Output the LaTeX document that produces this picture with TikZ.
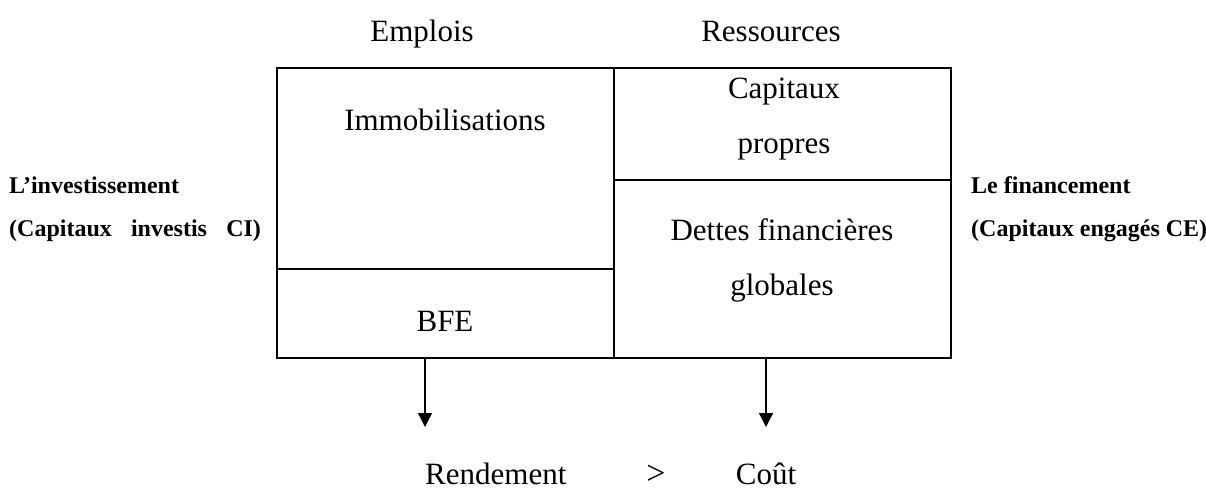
\documentclass[tikz,border=0pt]{standalone}
\usepackage{fontspec}
\setmainfont{Liberation Serif}
\usetikzlibrary{arrows.meta}
\tikzset{>={Triangle[length=14pt,width=14pt]},%
  txt/.style={inner sep=0pt,anchor=base,font=\fontsize{31}{55}\selectfont,align=center},%
  side/.style={inner sep=0pt,anchor=base west,font=\fontsize{24}{43}\selectfont\bfseries,align=left},%
  cell/.style={line width=1.6pt},%
  flow/.style={line width=1.3pt,->}}

\begin{document}
\begin{tikzpicture}[x=1pt,y=-1pt]
      \useasboundingbox (0,0) rectangle (1206,493);
      % bilan
      \draw[cell] (277,68) rectangle (951,358);
      \draw[cell] (614,68) -- (614,358);
      \draw[cell] (277,269) -- (614,269);
      \draw[cell] (614,180) -- (951,180);
      \node[txt] (emplois) at (422,41) {Emplois};
      \node[txt] (ressources) at (771,41) {Ressources};
      \node[txt] (immo) at (445,130) {Immobilisations};
      \node[txt] (cp) at (784,153) {Capitaux\\propres};
      \node[txt] (dettes) at (782,295) {Dettes financières\\globales};
      \node[txt] (bfe) at (445,331) {BFE};
      \node[side] (invest) at (9,236) {L’investissement\\(Capitaux\hspace{0.8em}investis\hspace{0.8em}CI)};
      \node[side] (finance) at (971,236) {Le financement\\(Capitaux engagés CE)};
      % comparaison
      \coordinate (a1) at (425,358);
      \coordinate (a2) at (425,427);
      \coordinate (b1) at (766,358);
      \coordinate (b2) at (766,427);
      \draw[flow] (a1) -- (a2);
      \draw[flow] (b1) -- (b2);
      \node[txt,anchor=base west] (rend) at (425,484) {Rendement};
      \node[txt,font=\fontsize{34}{34}\selectfont] (sup) at (656,484) {>};
      \node[txt] (cout) at (766,484) {Coût};
    \end{tikzpicture}
\end{document}
